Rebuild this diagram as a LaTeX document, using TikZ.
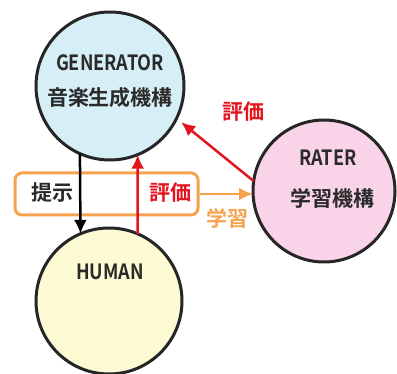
\documentclass[tikz,border=0pt]{standalone}
\usepackage{fontspec}
\setmainfont{Noto Sans CJK JP}[BoldFont={Noto Sans CJK JP Bold}]
\usetikzlibrary{arrows.meta}
\definecolor{genfill}{HTML}{D6EEF5}
\definecolor{ratfill}{HTML}{F9D3E8}
\definecolor{humfill}{HTML}{FDFBD3}
\definecolor{myred}{HTML}{E3141E}
\definecolor{myorange}{HTML}{F7A24E}
\definecolor{txt}{HTML}{2A2A2A}
\tikzset{
  ball/.style={circle, draw=black!85, line width=3pt, outer sep=0pt, inner sep=0pt},
  lbl/.style={font=\fontsize{21}{21}\selectfont\bfseries, inner sep=0pt, text=txt},
  tip/.style={-{Latex[length=14pt,width=13pt]}, line width=2.5pt},
}
\begin{document}
\begin{tikzpicture}[x=1pt,y=-1pt]
\useasboundingbox (0,0) rectangle (397,374);
% orange box
\node[draw=myorange, line width=3pt, rounded corners=7pt, minimum width=183pt, minimum height=42pt, inner sep=0pt] (box) at (106.5,194) {};
% circles
\node[ball, fill=genfill, minimum size=148pt] (gen) at (110,86) {};
\node[ball, fill=ratfill, minimum size=142pt] (rat) at (324,191) {};
\node[ball, fill=humfill, minimum size=146pt] (hum) at (109,301) {};
% texts
\node[lbl, xscale=0.86] (gent) at (110,63) {GENERATOR};
\node[lbl] (genj) at (110,98) {音楽生成機構};
\node[lbl, xscale=0.86] (ratt) at (328,158) {RATER};
\node[lbl] (ratj) at (332,198) {学習機構};
\node[lbl, xscale=0.86] (humt) at (110,272) {HUMAN};
\node[lbl] (teiji) at (52,193) {提示};
\node[lbl, text=myred] (hyoka1) at (170,193) {評価};
\node[lbl, text=myred] (hyoka2) at (243,112) {評価};
\node[lbl, text=myorange] (gaku) at (227,218) {学習};
% arrows
\draw[tip, black] (gen.246) -- (hum.113);
\draw[tip, myred] (hum.67) -- (gen.292);
\draw[tip, myred, shorten >=6pt] (rat.172) -- (gen.334);
\draw[tip, myorange] (box.east) -- (rat.west |- box.east);
\end{tikzpicture}
\end{document}
